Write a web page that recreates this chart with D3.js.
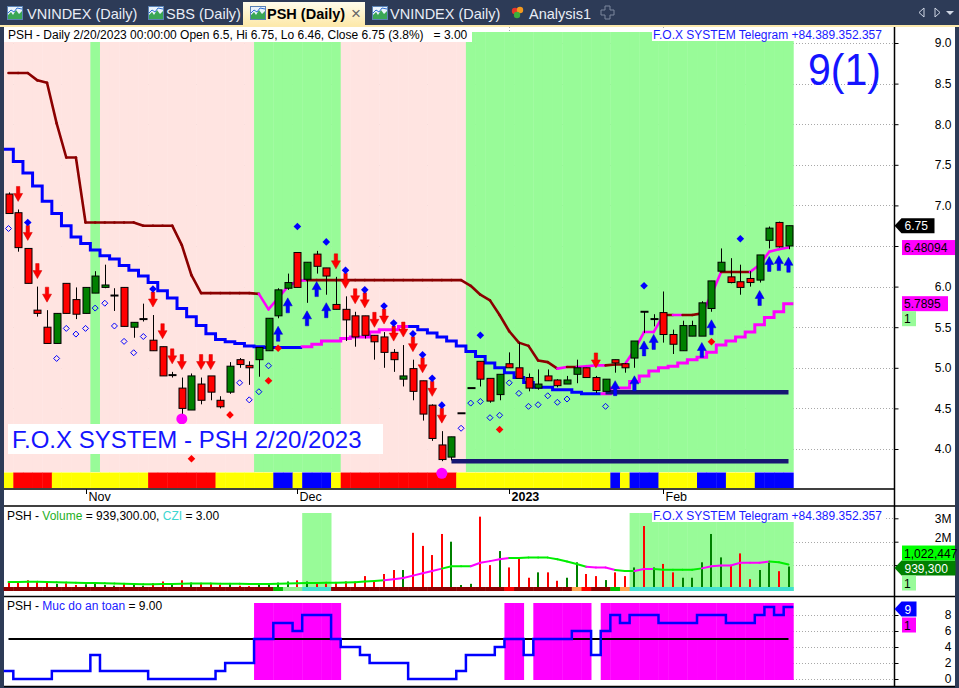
<!DOCTYPE html>
<html>
<head>
<meta charset="utf-8">
<script src="https://cdn.jsdelivr.net/npm/d3@7/dist/d3.min.js"></script>
<style>
html,body{margin:0;padding:0;background:#2d3b57;}
svg{display:block;font-family:"Liberation Sans",Arial,sans-serif;}
</style>
</head>
<body>
<svg id="chart" width="959" height="688"></svg>
<script>
// ================= DATA =================
const dates = ["2022-10-20","2022-10-21","2022-10-24","2022-10-25","2022-10-26","2022-10-27","2022-10-28","2022-10-31",
"2022-11-01","2022-11-02","2022-11-03","2022-11-04","2022-11-07","2022-11-08","2022-11-09","2022-11-10","2022-11-11","2022-11-14","2022-11-15","2022-11-16","2022-11-17","2022-11-18","2022-11-21","2022-11-22","2022-11-23","2022-11-24","2022-11-25","2022-11-28","2022-11-29","2022-11-30",
"2022-12-01","2022-12-02","2022-12-05","2022-12-06","2022-12-07","2022-12-08","2022-12-09","2022-12-12","2022-12-13","2022-12-14","2022-12-15","2022-12-16","2022-12-19","2022-12-20","2022-12-21","2022-12-22","2022-12-23","2022-12-26","2022-12-27","2022-12-28","2022-12-29","2022-12-30",
"2023-01-03","2023-01-04","2023-01-05","2023-01-06","2023-01-09","2023-01-10","2023-01-11","2023-01-12","2023-01-13","2023-01-16","2023-01-17","2023-01-18","2023-01-19","2023-01-27","2023-01-30","2023-01-31",
"2023-02-01","2023-02-02","2023-02-03","2023-02-06","2023-02-07","2023-02-08","2023-02-09","2023-02-10","2023-02-13","2023-02-14","2023-02-15","2023-02-16","2023-02-17","2023-02-20"];
const tickIndex  = [8, 30, 52, 68];
const tickLabels = ["Nov", "Dec", "2023", "Feb"];

const openP  = [7.14,6.91,6.47,5.71,5.50,5.30,6.04,5.84,5.67,5.92, 5.99,5.89,5.99,5.50,5.60,5.34,5.26,4.91,4.75,4.48,
                4.80,4.90,4.60,4.70,5.10,5.03,5.10,5.21,5.64,5.98, 6.42,6.09,6.40,6.23,5.78,5.72,5.64,5.64,5.40,5.38,
                5.19,4.86,4.99,4.84,4.54,4.05,3.90,4.44,4.75,5.08, 4.87,4.67,5.05,5.00,4.88,4.75,4.90,4.85,4.80,4.92,
                5.00,4.88,4.71,5.10,5.05,5.12,5.69,5.60,5.68,5.41, 5.21,5.39,5.39,5.73,6.19,6.12,6.06,6.10,6.08,6.57, 6.79,6.50];
const highP  = [7.16,6.95,6.47,6.00,5.71,5.67,6.04,5.99,5.99,6.19, 6.27,5.98,5.99,5.56,5.79,5.65,5.26,4.95,4.88,4.93,
                4.88,4.88,4.65,5.07,5.12,5.08,5.25,5.61,5.98,6.16, 6.42,6.30,6.44,6.23,6.12,5.88,5.69,5.64,5.40,5.44,
                5.23,5.28,5.10,4.84,4.55,4.22,4.15,4.44,4.75,5.08, 4.87,4.92,5.19,5.31,4.93,4.98,4.98,4.86,4.90,5.10,
                5.00,4.90,4.86,5.10,5.06,5.33,5.69,5.66,5.94,5.47, 5.58,5.58,5.82,6.07,6.47,6.35,6.27,6.19,6.39,6.74, 6.80,6.75];
const lowP   = [6.90,6.43,6.04,5.63,5.30,5.30,5.67,5.60,5.67,5.92, 5.98,5.70,5.51,5.37,5.57,5.21,4.90,4.88,4.40,4.48,
                4.55,4.60,4.50,4.68,5.00,4.79,4.89,5.21,5.61,5.96, 5.99,5.80,6.16,5.90,5.72,5.33,5.26,5.36,5.10,5.00,
                4.95,4.77,4.60,4.35,4.10,3.85,3.86,4.44,4.75,4.77, 4.57,4.60,5.00,4.87,4.71,4.73,4.84,4.76,4.80,4.81,
                4.88,4.69,4.71,4.94,4.94,5.00,5.43,5.51,5.31,5.17, 5.21,5.39,5.41,5.69,6.19,6.04,5.90,6.00,6.05,6.47, 6.48,6.46];
const closeP = [6.90,6.48,6.04,5.67,5.30,5.67,5.67,5.66,5.99,6.13, 6.02,5.89,5.51,5.56,5.60,5.21,4.90,4.91,4.50,4.90,
                4.60,4.70,4.52,5.02,5.04,5.00,5.25,5.61,5.96,6.05, 5.99,6.30,6.25,6.13,5.72,5.59,5.38,5.40,5.32,5.19,
                5.10,4.90,4.71,4.43,4.13,3.87,4.15,4.44,4.75,4.86, 4.59,4.92,5.00,4.87,4.75,4.80,4.84,4.78,4.85,5.00,
                4.88,4.72,4.86,5.06,5.00,5.33,5.69,5.60,5.41,5.29, 5.52,5.52,5.80,6.07,6.30,6.05,5.99,6.05,6.39,6.72, 6.49,6.75];

// upper trailing stop (dark red = down, magenta = up)
const upperStop = [8.63,8.63,8.63,8.54,8.51,8.01,7.59,7.59,6.79,6.79, 6.79,6.79,6.79,6.79,6.75,6.75,6.75,6.75,6.51,6.14,
                   5.92,5.92,5.92,5.92,5.92,5.92,5.91,5.72,5.86,6.00, 6.07,6.08,6.08,6.08,6.08,6.08,6.08,6.08,6.08,6.08,
                   6.08,6.08,6.08,6.08,6.08,6.08,6.08,6.08,6.01,5.90, 5.83,5.65,5.45,5.31,5.27,5.09,5.07,4.99,5.01,5.01,
                   5.02,5.03,5.03,5.04,5.04,5.22,5.44,5.44,5.65,5.65, 5.65,5.65,5.67,5.90,6.18,6.18,6.18,6.18,6.27,6.43, 6.46,6.48094];
const upperStopColor = ("rrrrrrrrrrrrrrrrrrrrrrrrrrr" + "mmmmm" + "rrrrrrrrrrrrrrrrrrrrrrrrrr" + "mrmmmrrmmmmrmrrmmrrrmmmm").split("");
// lower trailing stop (blue = down, magenta = up)
const lowerStop = [7.69,7.54,7.40,7.24,7.05,6.90,6.75,6.61,6.53,6.45, 6.38,6.34,6.26,6.20,6.13,6.05,5.95,5.86,5.73,5.63,
                   5.52,5.42,5.35,5.32,5.30,5.27,5.26,5.25,5.25,5.25, 5.25,5.26,5.29,5.33,5.33,5.36,5.38,5.38,5.44,5.47,
                   5.47,5.51,5.51,5.47,5.43,5.38,5.33,5.27,5.20,5.14, 5.06,5.00,4.94,4.88,4.82,4.76,4.76,4.73,4.73,4.70,
                   4.68,4.68,4.68,4.75,4.75,4.83,4.90,4.96,5.00,5.02, 5.06,5.10,5.13,5.19,5.28,5.33,5.38,5.44,5.53,5.62, 5.69,5.7895];
const lowerStopColor = ("b".repeat(31) + "m".repeat(11) + "b".repeat(20) + "m".repeat(20)).split("");

// background regime per bar (P pink, G green) and signal strip (Y/R/B)
const priceBg = ("PPPPPPPPP" + "G" + "PPPPPPPPPPPPPPPP" + "GGGGGGGGG" + "PPPPPPPPPPPPP" + "G".repeat(34)).split("");
const signalStrip = ("Y"+"RRRR"+"YYYYYYYYYY"+"RRRRRRR"+"YYYYYY"+"BB"+"Y"+"BBB"+"Y"+"RRRRRRRRRRRR"+"YYYYYYYYYYYYYYYY"+"B"+"Y"+"BBB"+"YYYY"+"BBB"+"YYY"+"BBBB").split("");

// signals
const sellSignals   = [1,2,3,4,15,16,17,18,20,21,34,35,36,37,38,39,40,41,42,43,44,45,61];
const buySignals    = [28,29,31,32,33,63,65,66,67,72,73,78,79,80,81];
const topDiamonds   = [2,15,30,33,35,37,39,40,42,43,44,45,49,66,76];
const hollowDiamonds= [0,5,6,7,8,9,10,11,12,13,14,24,25,26,27,47,48,49,50,51,52,53,54,55,56,57,58,62];
const redDiamondIdx   = [19, 23, 27, 28, 51, 73];
const redDiamondPrice = [3.88, 4.42, 4.84, 5.24, 4.24, 5.32];
const circleIdx   = [18, 45];
const circlePrice = [4.37, 3.70];
const supportStart = [62, 46];
const supportLevel = [4.70, 3.85];

// volume (millions)
const volumeM = [0.25,0.30,0.35,0.30,0.25,0.20,0.22,0.15,0.18,0.20, 0.15,0.12,0.20,0.15,0.12,0.22,0.30,0.18,0.35,0.25,
                 0.20,0.22,0.15,0.20,0.12,0.10,0.15,0.20,0.25,0.30, 0.35,0.30,0.25,0.22,0.25,0.30,0.28,0.53,0.30,0.62,
                 0.79,0.79,2.38,1.82,1.43,2.33,2.00,0.15,0.20,3.07, 1.00,1.60,0.90,1.33,0.46,0.69,0.69,0.33,0.46,1.12,
                 0.62,0.53,0.36,0.69,0.53,0.90,2.67,0.90,1.05,0.69, 0.46,0.46,1.12,2.33,1.33,0.97,1.50,0.40,0.79,1.12, 0.74,0.9393];
const volumeMA = [0.28,0.28,0.29,0.29,0.28,0.27,0.26,0.25,0.24,0.23, 0.22,0.21,0.20,0.19,0.18,0.18,0.19,0.19,0.20,0.21,
                  0.21,0.21,0.20,0.20,0.20,0.19,0.19,0.19,0.20,0.21, 0.22,0.23,0.24,0.25,0.25,0.26,0.27,0.30,0.32,0.35,
                  0.40,0.45,0.55,0.65,0.75,0.85,0.95,0.95,0.95,1.10, 1.17,1.25,1.30,1.30,1.32,1.32,1.32,1.25,1.15,1.05,
                  0.93,0.90,0.90,0.79,0.75,0.75,0.83,0.83,0.80,0.80, 0.80,0.80,0.86,0.95,0.98,0.98,1.10,1.10,1.10,1.15, 1.12,1.022447];
const volumeDir = ("RRRRRGRRGG"+"GGRGGRRGRG"+"RRRGRRGGGG"+"RGRRRRRRRR"+"RGRRRRGGGR"+"RGRRRGRRGG"+"RRGRRGRGRR"+"GGGGGRRRGG"+"RG").split("");
const volumeMAColor = ("g".repeat(40)+"m".repeat(6)+"g".repeat(3)+"m".repeat(4)+"g".repeat(8)+"m".repeat(3)+"gg"+"mm"+"g".repeat(5)+"m".repeat(7)+"gg").split("");
const cziStrip = ("D".repeat(28)+"G"+"LL"+"CCC"+"D".repeat(18)+"R"+"D".repeat(6)+"O"+"R"+"DD"+"G"+"O"+"C".repeat(17)).split("");
const volumeBg = (".".repeat(31)+"GGG"+".".repeat(31)+"G".repeat(17)).split("");

// "Muc do an toan" (safety level)
const safety = [1,0,0,0,0,1,1,1,1,3, 1,1,1,1,1,0,0,0,0,0, 0,0,1,2,2,2,5,5,7,7, 6,8,8,8,5,4,4,3,2,2,
                2,2,0,0,0,0,0,1,3,3, 3,4,5,5,3,5,5,5,5,6, 6,3,6,8,7,8,8,8,7,7, 7,7,8,8,8,7,7,7,8,9, 8,9];
const safetyLevel = 5;

const priceTicks = [4.0,4.5,5.0,5.5,6.0,6.5,7.0,7.5,8.0,8.5,9.0];
const volumeTicks = [1,2,3];
const safetyTicks = [0,2,4,6,8];

// ================= DRAW =================
const W = 959, H = 688;
const svg = d3.select("#chart");
const N = closeP.length;

const xs = d3.scaleLinear().domain([0, N - 1]).range([8.5, 788.5]);
const bw = xs(1) - xs(0), hw = bw / 2;
const yP = d3.scaleLinear().domain([4, 9]).range([449, 43]);
const yV = d3.scaleLinear().domain([0, 3]).range([588.5, 518.3]);
const yS = d3.scaleLinear().domain([0, 8]).range([679, 615]);

const PLOT_L = 4, AXIS_X = 894.5, RIGHT = 955;

// ---------- frame & tabs ----------
svg.append("rect").attr("width", W).attr("height", H).attr("fill", "#2d3b57");
const defs = svg.append("defs");
const g1 = defs.append("linearGradient").attr("id","tabg").attr("x1",0).attr("y1",0).attr("x2",0).attr("y2",1);
g1.append("stop").attr("offset","0%").attr("stop-color","#fffcec");
g1.append("stop").attr("offset","100%").attr("stop-color","#fde8a6");
defs.append("clipPath").attr("id","clipP").append("rect").attr("x",PLOT_L).attr("y",27).attr("width",AXIS_X-PLOT_L).attr("height",461);

svg.append("rect").attr("x",243).attr("y",2).attr("width",122).attr("height",25).attr("fill","url(#tabg)");
svg.append("rect").attr("x",0).attr("y",25).attr("width",W).attr("height",2).attr("fill","#fce9ad");

function tabIcon(x) {
  const g = svg.append("g").attr("transform", `translate(${x},6)`);
  g.append("rect").attr("x",0.5).attr("y",0.5).attr("width",15).attr("height",13).attr("fill","#eaf3fc").attr("stroke","#5a82b4");
  g.append("path").attr("d","M1,13 L1,9 L4,6 L6,9 L9,4 L12,8 L15,5 L15,13 Z").attr("fill","#3aa655");
  g.append("path").attr("d","M1,7 L4,4 L7,6 L10,2 L15,3").attr("fill","none").attr("stroke","#2f6fd1").attr("stroke-width",1);
}
const tabFont = "14.5px";
[[7,27,"VNINDEX (Daily)"],[148,166,"SBS (Daily)"],[372,390,"VNINDEX (Daily)"]].forEach(t => {
  tabIcon(t[0]);
  svg.append("text").attr("x",t[1]).attr("y",19).attr("fill","#e8edf6").attr("font-size",tabFont).text(t[2]);
});
tabIcon(250);
svg.append("text").attr("x",267).attr("y",19).attr("fill","#000").attr("font-weight","bold").attr("font-size",tabFont).text("PSH (Daily)");
svg.append("text").attr("x",351).attr("y",19).attr("fill","#666").attr("font-size","17px").text("×");
svg.append("circle").attr("cx",515).attr("cy",11).attr("r",3.2).attr("fill","#e8372c");
svg.append("circle").attr("cx",520).attr("cy",10).attr("r",3.2).attr("fill","#f39a1e");
svg.append("circle").attr("cx",517).attr("cy",15).attr("r",3.2).attr("fill","#3cae3c");
svg.append("text").attr("x",529).attr("y",19).attr("fill","#e8edf6").attr("font-size",tabFont).text("Analysis1");
svg.append("path").attr("d","M605,6 h5 v4 h4 v5 h-4 v4 h-5 v-4 h-4 v-5 h4 z")
  .attr("fill","none").attr("stroke","#7d889e").attr("stroke-width",1);
svg.append("path").attr("d","M924,8 L919,12.5 L924,17 Z").attr("fill","none").attr("stroke","#cfd6e4");
svg.append("path").attr("d","M935,8 L940,12.5 L935,17 Z").attr("fill","none").attr("stroke","#cfd6e4");
svg.append("path").attr("d","M946,11 L954,11 L950,15 Z").attr("fill","#cfd6e4");

svg.append("rect").attr("x",PLOT_L).attr("y",27).attr("width",RIGHT-PLOT_L).attr("height",660).attr("fill","#fff");

// ---------- PRICE PANE ----------
const pp = svg.append("g").attr("clip-path","url(#clipP)");
pp.selectAll(".hg").data(priceTicks).enter().append("line")
  .attr("x1",PLOT_L).attr("x2",AXIS_X).attr("y1",d=>Math.round(yP(d))+0.5).attr("y2",d=>Math.round(yP(d))+0.5)
  .attr("stroke","#a8a8a8").attr("stroke-dasharray","1,2");
pp.selectAll(".vg").data(tickIndex).enter().append("line")
  .attr("x1",d=>Math.round(xs(d))+0.5).attr("x2",d=>Math.round(xs(d))+0.5).attr("y1",27).attr("y2",488)
  .attr("stroke","#a8a8a8").attr("stroke-dasharray","1,2");
const bgCol = {P:"#ffe4e1", G:"#98fb98"};
pp.selectAll(".bg").data(priceBg).enter().append("rect")
  .attr("x",(d,i)=>xs(i)-hw).attr("width",bw+0.4).attr("y",32).attr("height",440)
  .attr("fill",d=>bgCol[d]);
const stripCol = {Y:"#ffff00", R:"#ff0000", B:"#0000ff"};
pp.selectAll(".st").data(signalStrip).enter().append("rect")
  .attr("x",(d,i)=>xs(i)-hw).attr("width",bw+0.4).attr("y",472.5).attr("height",16)
  .attr("fill",d=>stripCol[d]);

function runs(colors) {
  const r = []; let a = 0;
  for (let i = 1; i <= colors.length; i++) {
    if (i === colors.length || colors[i] !== colors[a]) { r.push([a, i - 1, colors[a]]); a = i; }
  }
  return r;
}
function stepPath(vals, a, b, y) {
  let p = `M${xs(a)-hw},${y(a > 0 ? vals[a-1] : vals[a])}V${y(vals[a])}`;
  for (let i = a; i <= b; i++) {
    p += `H${xs(i)+hw}`;
    if (i < b) p += `V${y(vals[i+1])}`;
  }
  return p;
}
const lsCol = {b:"#0000ff", m:"#ff00ff"};
runs(lowerStopColor).forEach(([a,b,c]) => {
  pp.append("path").attr("d", stepPath(lowerStop, a, b, yP)).attr("fill","none")
    .attr("stroke", lsCol[c]).attr("stroke-width", 3).attr("stroke-linejoin","miter");
});
const usCol = {r:"#8b0000", m:"#ff00ff"};
for (let i = 1; i < N; i++) {
  pp.append("line").attr("x1",xs(i-1)).attr("y1",yP(upperStop[i-1])).attr("x2",xs(i)).attr("y2",yP(upperStop[i]))
    .attr("stroke", usCol[upperStopColor[i]]).attr("stroke-width", 2.6).attr("stroke-linecap","round");
}
supportStart.forEach((s, k) => {
  pp.append("line").attr("x1", xs(s)).attr("x2", xs(N-1)).attr("y1", yP(supportLevel[k])).attr("y2", yP(supportLevel[k]))
    .attr("stroke","#161672").attr("stroke-width", 4.5);
});

// candles
const cg = pp.append("g");
for (let i = 0; i < N; i++) {
  const cx = Math.round(xs(i)) + 0.5;
  cg.append("line").attr("x1",cx).attr("x2",cx).attr("y1",yP(highP[i])).attr("y2",yP(lowP[i])).attr("stroke","#000").attr("stroke-width",1);
  const o = openP[i], c = closeP[i];
  if (Math.abs(o - c) < 0.005) {
    cg.append("line").attr("x1",cx-4).attr("x2",cx+4).attr("y1",yP(c)).attr("y2",yP(c)).attr("stroke","#000").attr("stroke-width",2);
  } else {
    const top = yP(Math.max(o,c)), bot = yP(Math.min(o,c));
    cg.append("rect").attr("x",cx-3.5).attr("y",top).attr("width",7).attr("height",Math.max(bot-top,1))
      .attr("fill", c > o ? "#008000" : "#ff0000").attr("stroke","#000").attr("stroke-width",1);
  }
}

// markers
const mg = pp.append("g");
sellSignals.forEach(i => {
  const cx = xs(i), t = yP(highP[i]) - 8;
  mg.append("path").attr("d",`M${cx},${t} L${cx-4.5},${t-8} L${cx-1.7},${t-8} L${cx-1.7},${t-15} L${cx+1.7},${t-15} L${cx+1.7},${t-8} L${cx+4.5},${t-8} Z`)
    .attr("fill","#ff0000").attr("stroke","#d00000").attr("stroke-width",0.5);
});
buySignals.forEach(i => {
  const cx = xs(i), t = yP(lowP[i]) + 8;
  mg.append("path").attr("d",`M${cx},${t} L${cx-4.5},${t+8} L${cx-1.7},${t+8} L${cx-1.7},${t+15} L${cx+1.7},${t+15} L${cx+1.7},${t+8} L${cx+4.5},${t+8} Z`)
    .attr("fill","#0000ff").attr("stroke","#0000c8").attr("stroke-width",0.5);
});
const dia = (cx, cy, r) => `M${cx},${cy-r} L${cx+r},${cy} L${cx},${cy+r} L${cx-r},${cy} Z`;
topDiamonds.forEach(i => {
  mg.append("path").attr("d", dia(xs(i), yP(highP[i]) - 26, 3.8)).attr("fill","#0000ff");
});
hollowDiamonds.forEach(i => {
  mg.append("path").attr("d", dia(xs(i), yP(lowP[i]) + 15, 3)).attr("fill","none").attr("stroke","#0000ff").attr("stroke-width",1);
});
redDiamondIdx.forEach((i,k) => {
  mg.append("path").attr("d", dia(xs(i), yP(redDiamondPrice[k]), 3.8)).attr("fill","#ff0000");
});
circleIdx.forEach((i,k) => {
  mg.append("circle").attr("cx", xs(i)).attr("cy", yP(circlePrice[k])).attr("r", 5.5).attr("fill","#ff00ff");
});
mg.append("path").attr("d", `M${xs(46)-3},487 L${xs(46)+3},487 L${xs(46)},492 Z`).attr("fill","#ff0000");

// texts in price pane
svg.append("rect").attr("x",PLOT_L).attr("y",27).attr("width",468).attr("height",15).attr("fill","#fff");
svg.append("text").attr("x",8).attr("y",39).attr("font-size","12px").attr("fill","#000").attr("xml:space","preserve")
  .text("PSH - Daily 2/20/2023 00:00:00 Open 6.5, Hi 6.75, Lo 6.46, Close 6.75 (3.8%)   = 3.00");
svg.append("rect").attr("x",652).attr("y",28).attr("width",234).attr("height",13).attr("fill","#fff");
svg.append("text").attr("x",653).attr("y",39).attr("font-size","12px").attr("fill","#1a1aff").text("F.O.X SYSTEM Telegram +84.389.352.357");
svg.append("text").attr("x",808).attr("y",85).attr("font-size","45px").attr("fill","#1414ff")
  .attr("textLength",73).attr("lengthAdjust","spacingAndGlyphs").text("9(1)");
svg.append("rect").attr("x",8).attr("y",424).attr("width",375).attr("height",30).attr("fill","#fff");
svg.append("text").attr("x",12).attr("y",447.5).attr("font-size","24px").attr("fill","#1414ff").text("F.O.X SYSTEM - PSH 2/20/2023");

// ---------- DATE AXIS ----------
svg.append("line").attr("x1",PLOT_L).attr("x2",AXIS_X).attr("y1",489).attr("y2",489).attr("stroke","#000").attr("stroke-width",1.5);
svg.append("line").attr("x1",PLOT_L).attr("x2",RIGHT).attr("y1",506).attr("y2",506).attr("stroke","#000").attr("stroke-width",1.5);
tickIndex.forEach((t,k) => {
  const x = Math.round(xs(t)) + 0.5;
  svg.append("line").attr("x1",x).attr("x2",x).attr("y1",489).attr("y2",494).attr("stroke","#000");
  svg.append("text").attr("x",x+2).attr("y",500.5).attr("font-size","12.5px")
    .attr("font-weight", tickLabels[k] === "2023" ? "bold" : "normal").attr("fill","#000").text(tickLabels[k]);
});

// ---------- VOLUME PANE ----------
const vp = svg.append("g");
volumeTicks.forEach(v => {
  vp.append("line").attr("x1",793).attr("x2",AXIS_X).attr("y1",Math.round(yV(v))+0.5).attr("y2",Math.round(yV(v))+0.5)
    .attr("stroke","#a8a8a8").attr("stroke-dasharray","1,2");
});
volumeBg.forEach((d,i) => {
  if (d === "G") vp.append("rect").attr("x",xs(i)-hw).attr("width",bw+0.4).attr("y",513).attr("height",78).attr("fill","#98fb98");
});
volumeM.forEach((v,i) => {
  vp.append("rect").attr("x",Math.round(xs(i))-1).attr("width",2).attr("y",yV(v)).attr("height",yV(0)-yV(v))
    .attr("fill", volumeDir[i] === "G" ? "#008000" : "#ff0000");
});
const maCol = {g:"#00ee00", m:"#ff00ff"};
for (let i = 1; i < N; i++) {
  vp.append("line").attr("x1",xs(i-1)).attr("y1",yV(volumeMA[i-1])).attr("x2",xs(i)).attr("y2",yV(volumeMA[i]))
    .attr("stroke", maCol[volumeMAColor[i]]).attr("stroke-width",2).attr("stroke-linecap","round");
}
const cziCol = {D:"#8b0000", G:"#00c000", L:"#90ee90", C:"#40e0d0", R:"#ff0000", O:"#ffa54f"};
cziStrip.forEach((d,i) => {
  vp.append("rect").attr("x",xs(i)-hw).attr("width",bw+0.4).attr("y",587).attr("height",4).attr("fill",cziCol[d]);
});
const vt = svg.append("text").attr("x",7).attr("y",519.5).attr("font-size","12px").attr("fill","#000").attr("xml:space","preserve");
vt.append("tspan").text("PSH - ");
vt.append("tspan").attr("fill","#1fb01f").text("Volume");
vt.append("tspan").text(" = 939,300.00, ");
vt.append("tspan").attr("fill","#3cd6d0").text("CZI");
vt.append("tspan").text(" = 3.00");
svg.append("rect").attr("x",652).attr("y",509).attr("width",234).attr("height",13).attr("fill","#fff");
svg.append("text").attr("x",653).attr("y",520).attr("font-size","12px").attr("fill","#1a1aff").text("F.O.X SYSTEM Telegram +84.389.352.357");

// ---------- SAFETY PANE ----------
svg.append("line").attr("x1",PLOT_L).attr("x2",RIGHT).attr("y1",596.5).attr("y2",596.5).attr("stroke","#000").attr("stroke-width",1.5);
svg.append("line").attr("x1",PLOT_L).attr("x2",RIGHT).attr("y1",686.5).attr("y2",686.5).attr("stroke","#000").attr("stroke-width",1.5);
const sp = svg.append("g");
safetyTicks.forEach(v => {
  sp.append("line").attr("x1",793).attr("x2",AXIS_X).attr("y1",Math.round(yS(v))+0.5).attr("y2",Math.round(yS(v))+0.5)
    .attr("stroke","#a8a8a8").attr("stroke-dasharray","1,2");
});
safety.forEach((v,i) => {
  if (v >= safetyLevel) sp.append("rect").attr("x",xs(i)-hw).attr("width",bw+0.4).attr("y",603).attr("height",77).attr("fill","#ff00ff");
});
sp.append("line").attr("x1",xs(0)).attr("x2",xs(N-1)).attr("y1",yS(safetyLevel)).attr("y2",yS(safetyLevel)).attr("stroke","#000").attr("stroke-width",2);
sp.append("path").attr("d", stepPath(safety, 0, N-1, yS)).attr("fill","none").attr("stroke","#0000ff").attr("stroke-width",2.5);
const st = svg.append("text").attr("x",7).attr("y",609.5).attr("font-size","12px").attr("fill","#000");
st.append("tspan").text("PSH - ");
st.append("tspan").attr("fill","#2020ff").text("Muc do an toan");
st.append("tspan").text(" = 9.00");

// ---------- AXES ----------
svg.append("line").attr("x1",AXIS_X).attr("x2",AXIS_X).attr("y1",27).attr("y2",687).attr("stroke","#000").attr("stroke-width",1.5);
const axisLabels = [];
function rightAxis(scale, ticks, fmt) {
  const g = svg.append("g").attr("transform",`translate(${AXIS_X},0)`)
    .call(d3.axisRight(scale).tickValues(ticks).tickSize(4).tickFormat(fmt));
  g.select(".domain").remove();
  g.selectAll("text").attr("x",57).attr("text-anchor","end").attr("font-size","12px")
    .attr("font-family","Liberation Sans, Arial, sans-serif").attr("fill","#000")
    .each(function(){ axisLabels.push(this); });
  g.selectAll("line").attr("stroke","#000");
  return g;
}
rightAxis(yP, priceTicks, d3.format(".1f"));
rightAxis(yV, volumeTicks, d => d + "M");
rightAxis(yS, safetyTicks, d3.format("d"));

// ---------- VALUE TAGS ----------
const tagBoxes = [];
function arrowTag(y, w, bg, fg, label) {
  svg.append("path").attr("d",`M${AXIS_X},${y} L${AXIS_X+7},${y-7.5} L${AXIS_X+7+w},${y-7.5} L${AXIS_X+7+w},${y+7.5} L${AXIS_X+7},${y+7.5} Z`).attr("fill",bg);
  svg.append("text").attr("x",AXIS_X+10).attr("y",y+4.5).attr("font-size","12px").attr("fill",fg).text(label);
  tagBoxes.push({x0:AXIS_X, x1:AXIS_X+7+w, y0:y-7.5, y1:y+7.5, cy:y});
}
function boxTag(y, w, bg, fg, label) {
  svg.append("rect").attr("x",902).attr("y",y-7.5).attr("width",w).attr("height",15).attr("fill",bg);
  svg.append("text").attr("x",904).attr("y",y+4.5).attr("font-size","12px").attr("fill",fg).text(label);
  tagBoxes.push({x0:902, x1:902+w, y0:y-7.5, y1:y+7.5, cy:y});
}
const lastC = closeP[N-1];
arrowTag(yP(lastC), 33, "#000", "#fff", d3.format(".2f")(lastC));
boxTag(yP(upperStop[N-1]), 53, "#ff00ff", "#000", d3.format(".5~f")(upperStop[N-1]));
boxTag(yP(lowerStop[N-1]), 46, "#ff00ff", "#000", d3.format(".4~f")(lowerStop[N-1]));
boxTag(yP(lowerStop[N-1]) + 15, 14, "#98fb98", "#000", "1");

const vTagY = yV(volumeM[N-1]) + 1.5;
arrowTag(vTagY, 54, "#008000", "#fff", d3.format(",")(Math.round(volumeM[N-1]*1e6)));
boxTag(vTagY - 15, 53, "#00ff00", "#000", d3.format(",")(Math.round(volumeMA[N-1]*1e6)));
boxTag(vTagY + 15, 14, "#98fb98", "#000", "1");

const sTagY = yS(safety[N-1]) + 2;
arrowTag(sTagY, 15, "#0000ff", "#fff", String(safety[N-1]));
boxTag(sTagY + 16, 14, "#ff00ff", "#000", "1");

// axis labels hidden behind value tags (as on screen), nudged when only grazing
axisLabels.forEach(el => {
  const b = el.getBBox();
  const tr = el.parentNode.getAttribute("transform");
  const ty = +tr.match(/,([\d.\-]+)\)/)[1];
  const lx0 = AXIS_X + b.x, lx1 = lx0 + b.width, ly0 = ty + b.y, ly1 = ly0 + b.height;
  tagBoxes.forEach(t => {
    if (lx1 > t.x0 && lx0 < t.x1 && ly1 > t.y0 && ly0 < t.y1) {
      if (Math.abs(ty - t.cy) < 8) d3.select(el).remove();
      else {
        const shift = ty < t.cy ? -(ly1 - t.y0 + 0.5) : (t.y1 - ly0 + 0.5);
        d3.select(el).attr("y", (+d3.select(el).attr("y") || 0) + shift);
      }
    }
  });
});
</script>
</body>
</html>
